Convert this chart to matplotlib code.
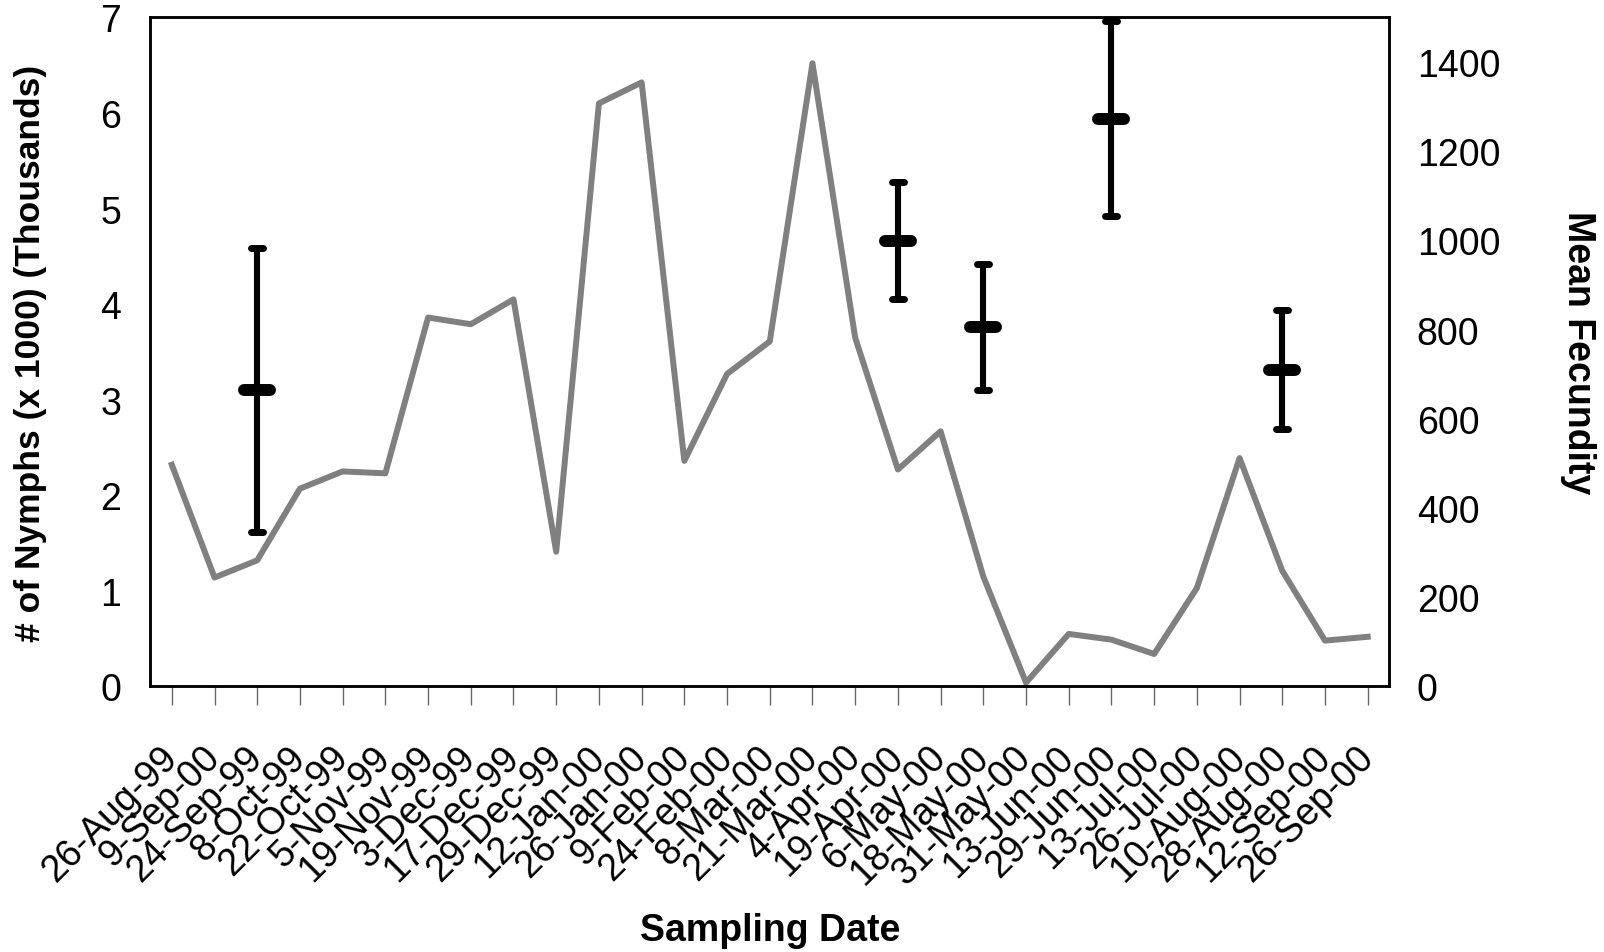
import numpy as np
import matplotlib.pyplot as plt
from matplotlib.markers import MarkerStyle
from matplotlib.transforms import ScaledTranslation

plt.rcParams['font.family'] = ['Liberation Sans', 'DejaVu Sans']

# --------------------------
# Data
# --------------------------
dates = ['26-Aug-99', '9-Sep-00', '24-Sep-99', '8-Oct-99', '22-Oct-99', '5-Nov-99',
         '19-Nov-99', '3-Dec-99', '17-Dec-99', '29-Dec-99', '12-Jan-00', '26-Jan-00',
         '9-Feb-00', '24-Feb-00', '8-Mar-00', '21-Mar-00', '4-Apr-00', '19-Apr-00',
         '6-May-00', '18-May-00', '31-May-00', '13-Jun-00', '29-Jun-00', '13-Jul-00',
         '26-Jul-00', '10-Aug-00', '28-Aug-00', '12-Sep-00', '26-Sep-00']

nymphs = [2.32, 1.14, 1.32, 2.07, 2.25, 2.23, 3.86, 3.79, 4.05, 1.41,
          6.10, 6.32, 2.36, 3.27, 3.61, 6.52, 3.65, 2.27, 2.67, 1.15,
          0.04, 0.55, 0.49, 0.34, 1.03, 2.39, 1.21, 0.48, 0.52]

fec_idx = [2, 17, 19, 22, 26]
fec_mean = [664, 999, 806, 1273, 710]
fec_err = [318, 131, 141, 219, 133]

x = np.arange(len(dates))
fx = [x[i] for i in fec_idx]

# --------------------------
# Plot
# --------------------------
fig = plt.figure(figsize=(16.04, 9.53), dpi=100)
ax = fig.add_axes([0.0938, 0.2786, 0.7722, 0.7021])

ax.plot(x, nymphs, color='#808080', lw=4.3)
ax.set_xlim(-0.5, len(dates) - 0.5)
ax.set_ylim(0, 7)
ax.set_yticks(range(0, 8))
ax.set_xticks(x)
ax.set_xticklabels(dates, rotation=45, ha='right', va='center', rotation_mode='anchor')
shift = ScaledTranslation(0.13, 0, fig.dpi_scale_trans)
for lbl in ax.get_xticklabels():
    lbl.set_transform(lbl.get_transform() + shift)
ax.tick_params(axis='y', length=0, pad=21, labelsize=27)
ax.tick_params(axis='x', length=14, width=1.0, color='#666666', pad=33, labelsize=27)
ax.set_ylabel('# of Nymphs (x 1000) (Thousands)', fontsize=25.5, fontweight='bold')
ax.yaxis.set_label_coords(-0.0837, 0.5)
ax.set_xlabel('Sampling Date', fontsize=27, fontweight='bold')
ax.xaxis.set_label_coords(0.5, -0.337)

ax2 = ax.twinx()
eb = ax2.errorbar(fx, fec_mean, yerr=fec_err, fmt='none',
                  ecolor='black', elinewidth=4.4, capsize=4, capthick=5)
for cl in eb[1]:
    cl.set_marker(MarkerStyle('_', capstyle='round'))
ax2.plot(fx, fec_mean, ls='none', marker=MarkerStyle('_', capstyle='round'),
         ms=19, mew=8.6, color='black')
ax2.set_ylim(0, 1500)
ax2.set_yticks(range(0, 1401, 200))
ax2.tick_params(axis='y', length=0, pad=20, labelsize=27)
ax2.set_ylabel('Mean Fecundity', fontsize=27, fontweight='bold', rotation=270)
ax2.yaxis.set_label_coords(1.167, 0.5)

for a in (ax, ax2):
    for s in a.spines.values():
        s.set_linewidth(1.8)
        s.set_color('black')

fig.savefig('out.png', dpi=100)
